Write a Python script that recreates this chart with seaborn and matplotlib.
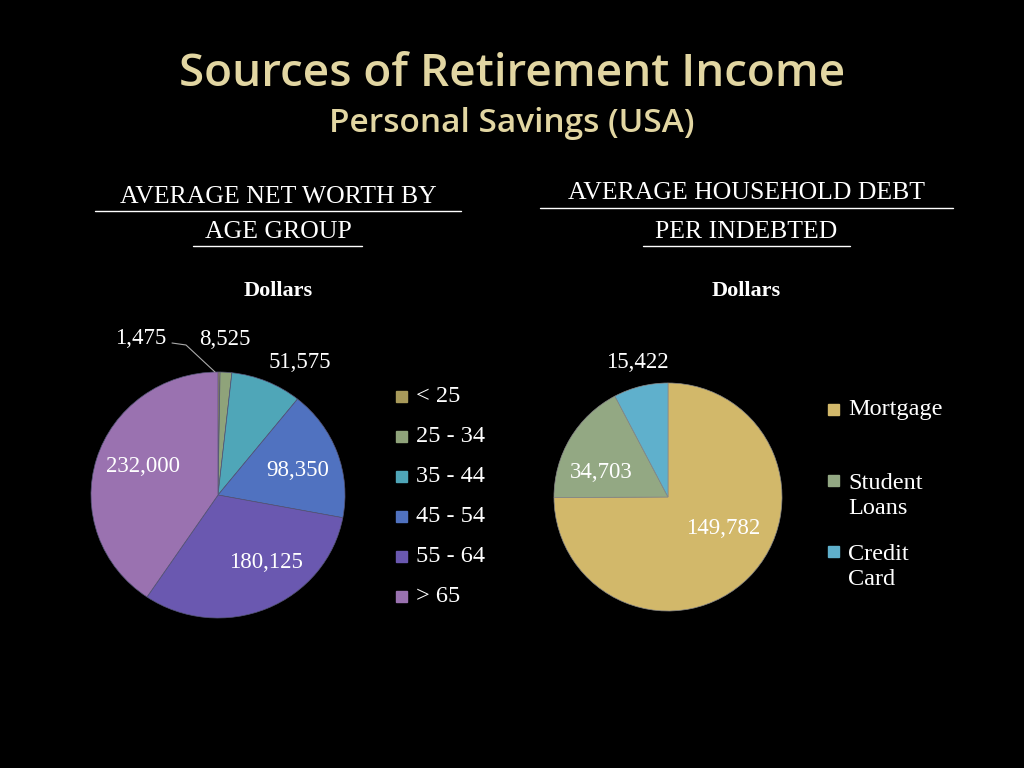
import matplotlib
matplotlib.use("Agg")
import matplotlib.pyplot as plt
from matplotlib.patches import Rectangle
import seaborn as sns

sns.set_style("dark")
plt.rcParams['font.family'] = ['Liberation Serif', 'DejaVu Serif']

age_groups = ["< 25", "25 - 34", "35 - 44", "45 - 54", "55 - 64", "> 65"]
net_worth = [1475, 8525, 51575, 98350, 180125, 232000]
age_colors = ["#a89a5a", "#8fa37a", "#4fa6b8", "#5072c0", "#6a58b0", "#9a72b0"]

debt_types = ["Mortgage", "Student\nLoans", "Credit\nCard"]
debt = [149782, 34703, 15422]
debt_colors = ["#d2b86a", "#93a883", "#5fb0cc"]

W, H = 1024, 768
fig = plt.figure(figsize=(W/100, H/100), dpi=100, facecolor="black")

def px_axes(cx, cy, rx, ry):
    return fig.add_axes([(cx-rx)/W, (H-cy-ry)/H, 2*rx/W, 2*ry/H])

def T(x, y, s, **kw):
    fig.text(x/W, 1-y/H, s, **kw)

T(512, 75, "Sources of Retirement Income", ha="center", va="center", color="#e2d6a2",
  fontsize=33, family="Open Sans", fontweight="semibold")
T(512, 123, "Personal Savings (USA)", ha="center", va="center", color="#e2d6a2",
  fontsize=24, family="Open Sans", fontweight="semibold")

for x, y, s in [(278, 197, "AVERAGE NET WORTH BY"), (278, 232, "AGE GROUP"),
                (746, 193, "AVERAGE HOUSEHOLD DEBT"), (746, 232, "PER INDEBTED")]:
    T(x, y, s, ha="center", va="center", color="white", fontsize=18.5)
for x0, x1, y in [(95, 461, 211), (193, 362, 246), (540, 953, 208), (643, 850, 246)]:
    fig.add_artist(plt.Line2D([x0/W, x1/W], [1-y/H, 1-y/H], color="white", lw=1))

T(278, 291, "Dollars", ha="center", va="center", color="white", fontsize=16, fontweight="bold")
T(746, 291, "Dollars", ha="center", va="center", color="white", fontsize=16, fontweight="bold")

ax1 = px_axes(218, 495, 127, 123)
ax1.pie(net_worth, colors=age_colors, startangle=90, counterclock=False,
        wedgeprops=dict(edgecolor="#555577", linewidth=0.5))
ax1.set_aspect("auto"); ax1.set_xlim(-1, 1); ax1.set_ylim(-1, 1)
ax2 = px_axes(668, 497, 114, 114)
ax2.pie(debt, colors=debt_colors, startangle=90, counterclock=False,
        wedgeprops=dict(edgecolor="#888888", linewidth=0.5))
ax2.set_aspect("auto"); ax2.set_xlim(-1, 1); ax2.set_ylim(-1, 1)

lab = dict(color="white", fontsize=16.5, ha="center", va="center")
for (x, y), v in zip([(141, 338), (225, 340), (300, 362), (298, 470), (266, 563), (143, 467)], net_worth):
    T(x, y, f"{v:,}", **lab)
fig.add_artist(plt.Line2D([172/W, 186/W, 215/W], [1-343/H, 1-345/H, 1-372/H], color="#aaaaaa", lw=0.8))
for (x, y), v in zip([(723, 528), (601, 472), (637, 363)], debt):
    T(x, y, f"{v:,}", **lab)

for i, (n, c) in enumerate(zip(age_groups, age_colors)):
    y = 396 + 40*i
    fig.add_artist(Rectangle((396/W, 1-(y+6)/H), 11/W, 11/H, color=c, transform=fig.transFigure))
    T(416, y, n, color="white", fontsize=17.5, va="center")
for n, c, y in zip(debt_types, debt_colors, [409, 496, 567]):
    yy = y if "\n" not in n else y - 16
    fig.add_artist(Rectangle((828/W, 1-(yy+6)/H), 11/W, 11/H, color=c, transform=fig.transFigure))
    T(848, y, n, color="white", fontsize=17.5, va="center", linespacing=1.25)

fig.savefig("out.png", facecolor="black", dpi=100)
